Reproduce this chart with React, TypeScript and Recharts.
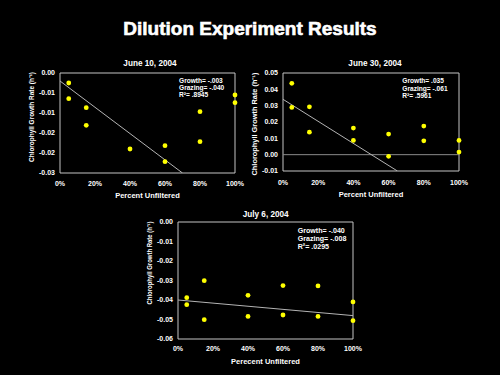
import { ReferenceArea, ReferenceLine, Scatter, ScatterChart, XAxis, YAxis } from 'recharts';

// percent unfiltered seawater for each bottle
const pctJune10 = [5, 5, 15, 15, 40, 60, 60, 80, 80, 100, 100];
const rateJune10 = [-0.003, -0.0077, -0.0104, -0.0157, -0.0228, -0.0218, -0.0266, -0.0116, -0.0206, -0.0066, -0.0089];
const trendPctJune10 = [0, 70];
const trendRateJune10 = [-0.0024, -0.03];
const statsJune10 = ['Growth= -.003', 'Grazing= -.040', 'R²= .8945'];
const yTicksJune10 = [0, -0.006, -0.012, -0.018, -0.024, -0.03];

const pctJune30 = [5, 5, 15, 15, 40, 40, 60, 60, 80, 80, 100, 100];
const rateJune30 = [0.0437, 0.0289, 0.0293, 0.0138, 0.0163, 0.0087, 0.0126, -0.001, 0.0175, 0.0085, 0.0087, 0.0016];
const trendPctJune30 = [0, 65];
const trendRateJune30 = [0.0339, -0.01];
const statsJune30 = ['Growth= .035', 'Grazing= -.061', 'R²= .5961'];
const yTicksJune30 = [0.05, 0.04, 0.03, 0.02, 0.01, 0, -0.01];

const pctJuly6 = [5, 5, 15, 15, 40, 40, 60, 60, 80, 80, 100, 100];
const rateJuly6 = [-0.0388, -0.0424, -0.0301, -0.0501, -0.0376, -0.0484, -0.0326, -0.0477, -0.0328, -0.0484, -0.041, -0.0506];
const trendPctJuly6 = [0, 100];
const trendRateJuly6 = [-0.04, -0.048];
const statsJuly6 = ['Growth= -.040', 'Grazing= -.008', 'R²= .0295'];
const yTicksJuly6 = [0, -0.01, -0.02, -0.03, -0.04, -0.05, -0.06];

const xTicks = [0, 20, 40, 60, 80, 100];

const FONT = '"Liberation Sans", Arial, sans-serif';

type Pt = { pct: number; rate: number };
const toPoints = (pct: number[], rate: number[]): Pt[] => pct.map((p, i) => ({ pct: p, rate: rate[i] }));

type PanelProps = {
	left: number;
	top: number;
	width: number;
	height: number;
	plotLeft: number;
	plotTop: number;
	plotRight: number;
	xHeight: number;
	xTickGap: number;
	xLabelOffset: number;
	xLabel: string;
	title: string;
	titleX: number;
	titleY: number;
	stats: string[];
	statsX: number;
	statsY: number;
	statsStep: number;
	statsSize: number;
	yLabelX: number;
	yLabelY: number;
	yLabelLen: number;
	points: Pt[];
	trend: Pt[];
	yTicks: number[];
	zeroLine?: boolean;
};

const dot = (p: any) => <circle cx={p.cx} cy={p.cy} r={2.4} fill="#ffff00" />;
const noDot = () => <g />;

function Panel(p: PanelProps) {
	const yMin = Math.min(...p.yTicks);
	const yMax = Math.max(...p.yTicks);
	const tickStyle = { fill: '#fff', fontSize: 7, fontWeight: 'bold', fontFamily: FONT };
	return (
		<div style={{ position: 'absolute', left: p.left, top: p.top, width: p.width, height: p.height }}>
			<ScatterChart
				width={p.width}
				height={p.height}
				margin={{ top: p.plotTop, right: p.width - p.plotRight, left: 0, bottom: 0 }}
			>
				<XAxis
					type="number"
					dataKey="pct"
					domain={[0, 100]}
					ticks={xTicks}
					interval={0}
					tickFormatter={(v: number) => `${v}%`}
					tickLine={false}
					axisLine={false}
					tickSize={0}
					tickMargin={p.xTickGap}
					height={p.xHeight}
					tick={tickStyle}
					label={{
						value: p.xLabel,
						position: 'insideBottom',
						offset: p.xLabelOffset,
						fill: '#fff',
						fontSize: 7.5,
						fontWeight: 'bold',
						fontFamily: FONT,
					}}
				/>
				<YAxis
					type="number"
					dataKey="rate"
					domain={[yMin, yMax]}
					ticks={p.yTicks}
					interval={0}
					tickFormatter={(v: number) => v.toFixed(2)}
					tickLine={false}
					axisLine={false}
					tickSize={0}
					tickMargin={5}
					width={p.plotLeft}
					tick={tickStyle}
					allowDataOverflow
				/>
				<ReferenceArea
					x1={0}
					x2={100}
					y1={yMin}
					y2={yMax}
					fill="none"
					fillOpacity={0}
					stroke="#c4c4c4"
					strokeWidth={1}
				/>
				{p.zeroLine && <ReferenceLine y={0} stroke="#8a8a8a" strokeWidth={1} />}
				<Scatter
					data={p.trend}
					line={{ stroke: '#b4b4b4', strokeWidth: 1 }}
					shape={noDot}
					isAnimationActive={false}
				/>
				<Scatter data={p.points} shape={dot} isAnimationActive={false} />
			</ScatterChart>
			<svg
				width={p.width}
				height={p.height}
				style={{ position: 'absolute', left: 0, top: 0, pointerEvents: 'none' }}
				fontFamily={FONT}
				fontWeight="bold"
				fill="#fff"
			>
				<text x={p.titleX} y={p.titleY} textAnchor="middle" fontSize={8.2}>
					{p.title}
				</text>
				{p.stats.map((s, i) => (
					<text key={s} x={p.statsX} y={p.statsY + i * p.statsStep} fontSize={p.statsSize}>
						{s}
					</text>
				))}
				<text
					x={p.yLabelX}
					y={p.yLabelY}
					textAnchor="middle"
					dominantBaseline="central"
					fontSize={7}
					textLength={p.yLabelLen}
					lengthAdjust="spacingAndGlyphs"
					transform={`rotate(-90, ${p.yLabelX}, ${p.yLabelY})`}
				>
					Chlorophyll Growth Rate (h⁻¹)
				</text>
			</svg>
		</div>
	);
}

export default function App() {
	return (
		<div
			style={{
				position: 'fixed',
				left: 0,
				top: 0,
				width: 500,
				height: 375,
				background: '#000',
				fontFamily: FONT,
				overflow: 'hidden',
			}}
		>
			<svg width={500} height={50} style={{ position: 'absolute', left: 0, top: 0 }}>
				<text
					x={250}
					y={35}
					textAnchor="middle"
					fill="#fff"
					stroke="#fff"
					strokeWidth={0.6}
					fontSize={19}
					fontWeight="bold"
					fontFamily={FONT}
				>
					Dilution Experiment Results
				</text>
			</svg>
			<Panel
				left={0}
				top={55}
				width={250}
				height={150}
				plotLeft={60}
				plotTop={18}
				plotRight={235}
				xHeight={32}
				xTickGap={8.5}
				xLabelOffset={7.4}
				xLabel="Percent Unfiltered"
				title="June 10, 2004"
				titleX={150}
				titleY={11}
				stats={statsJune10}
				statsX={179}
				statsY={28}
				statsStep={7}
				statsSize={6.6}
				yLabelX={31.5}
				yLabelY={62}
				yLabelLen={90}
				points={toPoints(pctJune10, rateJune10)}
				trend={toPoints(trendPctJune10, trendRateJune10)}
				yTicks={yTicksJune10}
			/>
			<Panel
				left={250}
				top={55}
				width={250}
				height={150}
				plotLeft={33}
				plotTop={18}
				plotRight={209}
				xHeight={34}
				xTickGap={8.8}
				xLabelOffset={8}
				xLabel="Percent Unfiltered"
				title="June 30, 2004"
				titleX={125}
				titleY={11}
				stats={statsJune30}
				statsX={152.3}
				statsY={28}
				statsStep={7.7}
				statsSize={6.6}
				yLabelX={4.7}
				yLabelY={69}
				yLabelLen={103}
				points={toPoints(pctJune30, rateJune30)}
				trend={toPoints(trendPctJune30, trendRateJune30)}
				yTicks={yTicksJune30}
				zeroLine
			/>
			<Panel
				left={120}
				top={205}
				width={260}
				height={170}
				plotLeft={58}
				plotTop={17}
				plotRight={233}
				xHeight={36}
				xTickGap={7.5}
				xLabelOffset={10.7}
				xLabel="Perecent Unfiltered"
				title="July 6, 2004"
				titleX={145.7}
				titleY={12}
				stats={statsJuly6}
				statsX={177.7}
				statsY={27.5}
				statsStep={8.3}
				statsSize={7.1}
				yLabelX={29.5}
				yLabelY={58}
				yLabelLen={83}
				points={toPoints(pctJuly6, rateJuly6)}
				trend={toPoints(trendPctJuly6, trendRateJuly6)}
				yTicks={yTicksJuly6}
			/>
		</div>
	);
}
